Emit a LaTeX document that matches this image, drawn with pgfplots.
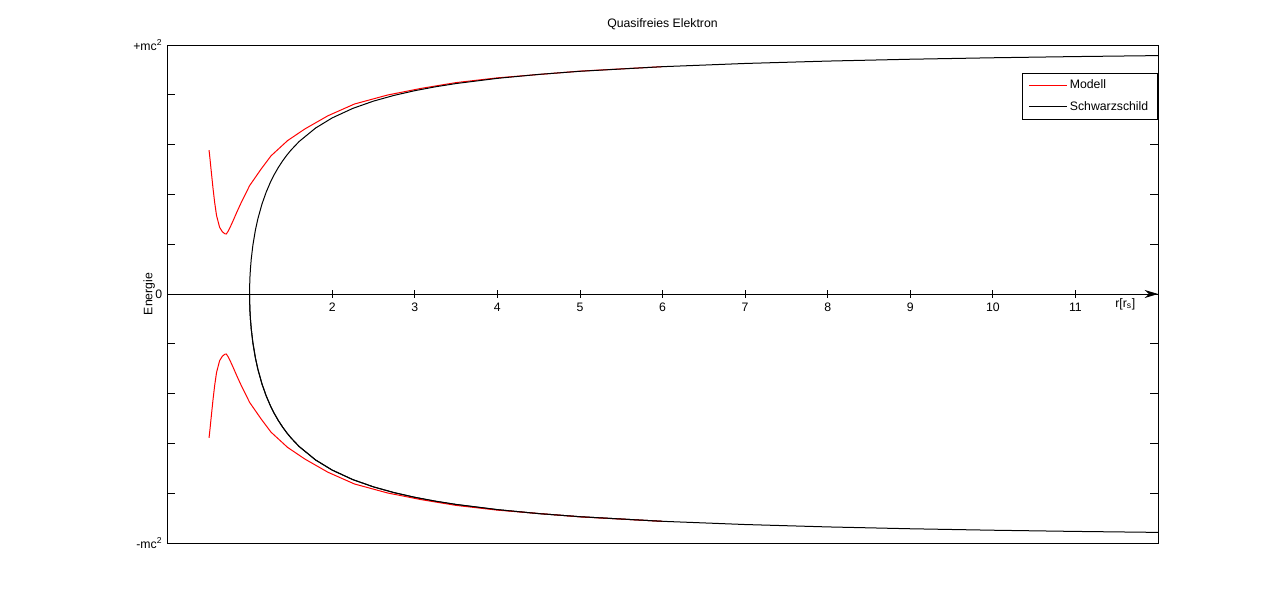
\documentclass[border=0pt]{standalone}
\usepackage{fontspec}
\setmainfont{Liberation Sans}
\usepackage{pgfplots}
\pgfplotsset{compat=1.18}
\usetikzlibrary{arrows.meta}

% 1 px of the reference = 0.75pt
\pgfplotsset{
  every tick label/.append style={font=\fontsize{9.2}{10}\selectfont},
  /pgf/number format/assume math mode=true,
}

\begin{document}
\begin{tikzpicture}
% whole canvas 1280x610 px, axis box at 167..1158 / 45..543
\path[use as bounding box] (-125.25pt,-50.25pt) rectangle (834.75pt,407.25pt);

\begin{axis}[
  at={(0,0)}, anchor=south west,
  scale only axis, width=743.25pt, height=373.5pt,
  xmin=0, xmax=12, ymin=-1, ymax=1,
  axis line style={line width=0.6pt},
  xtick=\empty,
  ytick={-1,0,1},
  yticklabels={-mc\textsuperscript{2},0,+mc\textsuperscript{2}},
  minor ytick={-0.8,-0.6,-0.4,-0.2,0.2,0.4,0.6,0.8},
  tick align=inside,
  major tick length=6pt, minor tick length=6pt,
  tick style={line width=0.6pt, black},
  ylabel={Energie},
  ylabel style={at={(axis description cs:-0.018,0.5)}, anchor=center,
    font=\fontsize{9.2}{10}\selectfont},
  title={Quasifreies Elektron},
  title style={font=\fontsize{9.2}{10}\selectfont, yshift=2pt},
  legend style={at={(axis description cs:1,0.944)}, anchor=north east,
    draw=black, line width=0.6pt, font=\fontsize{9.2}{10}\selectfont,
    inner xsep=5pt, inner ysep=3pt, row sep=4pt},
  legend cell align=left,
  legend image code/.code={\draw[#1] (0pt,0pt) -- (28pt,0pt);},
  every axis plot/.append style={line width=0.75pt},
]
% Modell, upper branch
\addplot[red] coordinates {
  (0.509,0.578) (0.520,0.545) (0.537,0.489) (0.557,0.425) (0.577,0.368)
  (0.600,0.315) (0.637,0.268) (0.670,0.250) (0.700,0.242) (0.718,0.241)
  (0.740,0.252) (0.770,0.272) (0.800,0.294) (0.850,0.332) (0.900,0.368)
  (1.000,0.435) (1.140,0.502) (1.260,0.555) (1.460,0.616) (1.670,0.663)
  (1.950,0.716) (2.270,0.763) (2.670,0.799) (3.080,0.826) (3.500,0.849)
  (4.000,0.868) (5.000,0.895) (6.000,0.913)
};
\addlegendentry{Modell}
% Schwarzschild, both branches
\addplot[black] coordinates {
  (12,-0.9574) (11,-0.9535) (10,-0.9487) (9,-0.9428) (8,-0.9354) (7,-0.9258)
  (6,-0.9129) (5,-0.8944) (4.5,-0.8819) (4,-0.8660) (3.5,-0.8452)
  (3.25,-0.8321) (3,-0.8165) (2.75,-0.7977) (2.5,-0.7746) (2.25,-0.7454)
  (2,-0.7071) (1.8,-0.6667) (1.6,-0.6124) (1.5,-0.5774) (1.45,-0.5571)
  (1.4,-0.5345) (1.35,-0.5092) (1.3,-0.4804) (1.25,-0.4472) (1.2,-0.4082)
  (1.15,-0.3612) (1.1,-0.3015) (1.07,-0.2558) (1.04,-0.1961) (1.02,-0.1400)
  (1.01,-0.0995) (1.005,-0.0705) (1.003,-0.0547) (1.001,-0.0316) (1,0)
  (1.001,0.0316) (1.003,0.0547) (1.005,0.0705) (1.01,0.0995) (1.02,0.1400)
  (1.04,0.1961) (1.07,0.2558) (1.1,0.3015) (1.15,0.3612) (1.2,0.4082)
  (1.25,0.4472) (1.3,0.4804) (1.35,0.5092) (1.4,0.5345) (1.45,0.5571)
  (1.5,0.5774) (1.6,0.6124) (1.8,0.6667) (2,0.7071) (2.25,0.7454)
  (2.5,0.7746) (2.75,0.7977) (3,0.8165) (3.25,0.8321) (3.5,0.8452)
  (4,0.8660) (4.5,0.8819) (5,0.8944) (6,0.9129) (7,0.9258) (8,0.9354)
  (9,0.9428) (10,0.9487) (11,0.9535) (12,0.9574)
};
\addlegendentry{Schwarzschild}
% Modell, lower branch
\addplot[red, forget plot] coordinates {
  (0.509,-0.578) (0.520,-0.545) (0.537,-0.489) (0.557,-0.425) (0.577,-0.368)
  (0.600,-0.315) (0.637,-0.268) (0.670,-0.250) (0.700,-0.242) (0.718,-0.241)
  (0.740,-0.252) (0.770,-0.272) (0.800,-0.294) (0.850,-0.332) (0.900,-0.368)
  (1.000,-0.435) (1.140,-0.502) (1.260,-0.555) (1.460,-0.616) (1.670,-0.663)
  (1.950,-0.716) (2.270,-0.763) (2.670,-0.799) (3.080,-0.826) (3.500,-0.849)
  (4.000,-0.868) (5.000,-0.895) (6.000,-0.913)
};
% black again on top of the lower red branch
\addplot[black, forget plot] coordinates {
  (1,0) (1.001,-0.0316) (1.003,-0.0547) (1.005,-0.0705) (1.01,-0.0995)
  (1.02,-0.1400) (1.04,-0.1961) (1.07,-0.2558) (1.1,-0.3015) (1.15,-0.3612)
  (1.2,-0.4082) (1.25,-0.4472) (1.3,-0.4804) (1.35,-0.5092) (1.4,-0.5345)
  (1.45,-0.5571) (1.5,-0.5774) (1.6,-0.6124) (1.8,-0.6667) (2,-0.7071)
  (2.25,-0.7454) (2.5,-0.7746) (2.75,-0.7977) (3,-0.8165) (3.25,-0.8321)
  (3.5,-0.8452) (4,-0.8660) (4.5,-0.8819) (5,-0.8944) (6,-0.9129)
};
\end{axis}

% r axis through E = 0
\begin{axis}[
  at={(0,0)}, anchor=south west,
  scale only axis, width=743.25pt, height=373.5pt,
  xmin=0, xmax=12, ymin=-1, ymax=1,
  axis x line=middle, axis y line=none,
  x axis line style={line width=0.6pt, -{Stealth[length=10pt,width=6pt]}},
  xtick={2,3,4,5,6,7,8,9,10,11},
  tick align=center, major tick length=6pt,
  tick style={line width=0.6pt, black},
  xlabel={r[r\textsubscript{s}]},
  xlabel style={at={(axis description cs:0.967,0.5)}, anchor=north,
    font=\fontsize{9.2}{10}\selectfont},
]
\end{axis}
\end{tikzpicture}
\end{document}
